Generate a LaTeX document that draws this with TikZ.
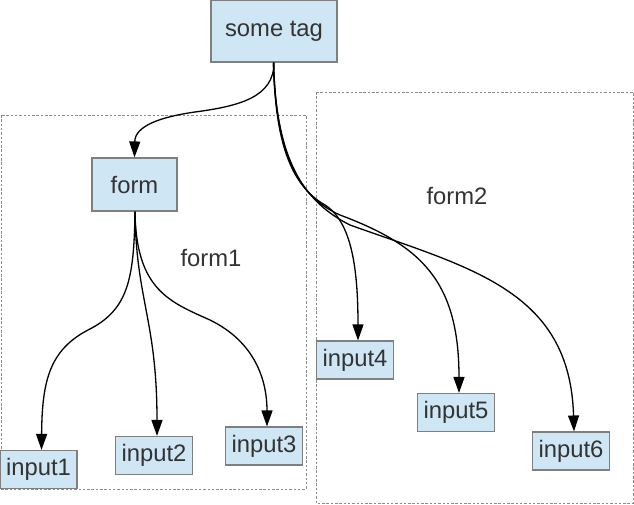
\documentclass[tikz,border=0pt]{standalone}
\usepackage{fontspec}
\setmainfont{Liberation Sans}
\usetikzlibrary{arrows.meta}
\definecolor{boxfill}{HTML}{CFE6F4}
\definecolor{boxline}{HTML}{7F7F7F}
\definecolor{txt}{HTML}{333333}
\definecolor{cluster}{HTML}{8A8A8A}
\begin{document}
\begin{tikzpicture}[x=1pt,y=-1pt,
  box/.style={draw=boxline,fill=boxfill,line width=1.1pt,inner sep=0pt,text=txt,
    font=\fontsize{23.8}{28}\selectfont},
  ibox/.style={box,minimum width=77pt,minimum height=38pt},
  clusterbox/.style={draw=cluster,line width=0.9pt,dash pattern=on 2.5pt off 1.8pt},
  lbl/.style={text=txt,font=\fontsize{23.8}{28}\selectfont,inner sep=0pt},
  edge/.style={line width=1.3pt,-{Triangle[length=16pt,width=11pt]}}]
\useasboundingbox (0,0) rectangle (634,504);
\fill[white] (0,0) rectangle (634,504);
% clusters
\draw[clusterbox] (1,115) rectangle (306,489);
\draw[clusterbox] (316,92) rectangle (633,503);
\node[lbl] (f1) at (211,258) {form1};
\node[lbl] (f2) at (457,196) {form2};
% nodes
\node[box,minimum width=126pt,minimum height=62pt] (tag) at (274,31) {some tag};
\node[box,minimum width=85pt,minimum height=53pt] (form) at (134.5,184.5) {form};
\node[ibox] (i1) at (38.5,469.5) {input1};
\node[ibox] (i2) at (154,455.5) {input2};
\node[ibox] (i3) at (264,446) {input3};
\node[ibox] (i4) at (355,360) {input4};
\node[ibox] (i5) at (456,412.5) {input5};
\node[ibox] (i6) at (571,451) {input6};
% edges
\draw[edge] (tag.south) .. controls (274,97) and (240,106) .. (195,112)
  .. controls (160,117) and (135,126) .. (form.north);
\draw[edge] ([xshift=-0.5pt]tag.south) .. controls (275,140) and (290,185) .. (325,205)
  .. controls (352,222) and (358,270) .. ([xshift=3pt]i4.north);
\draw[edge] ([xshift=-0.5pt]tag.south) .. controls (276,150) and (295,195) .. (340,215)
  .. controls (420,245) and (459,280) .. ([xshift=3pt]i5.north);
\draw[edge] ([xshift=-0.5pt]tag.south) .. controls (276,155) and (300,200) .. (350,225)
  .. controls (470,268) and (570,290) .. ([xshift=3pt]i6.north);
\draw[edge] ([xshift=0.5pt]form.south) .. controls (134,280) and (128,310) .. (88,330)
  .. controls (50,350) and (42,380) .. ([xshift=3pt]i1.north);
\draw[edge] ([xshift=0.5pt]form.south) .. controls (136,300) and (157,320) .. ([xshift=3pt]i2.north);
\draw[edge] ([xshift=0.5pt]form.south) .. controls (136,290) and (170,302) .. (210,320)
  .. controls (255,342) and (267,380) .. ([xshift=3pt]i3.north);
\end{tikzpicture}
\end{document}
